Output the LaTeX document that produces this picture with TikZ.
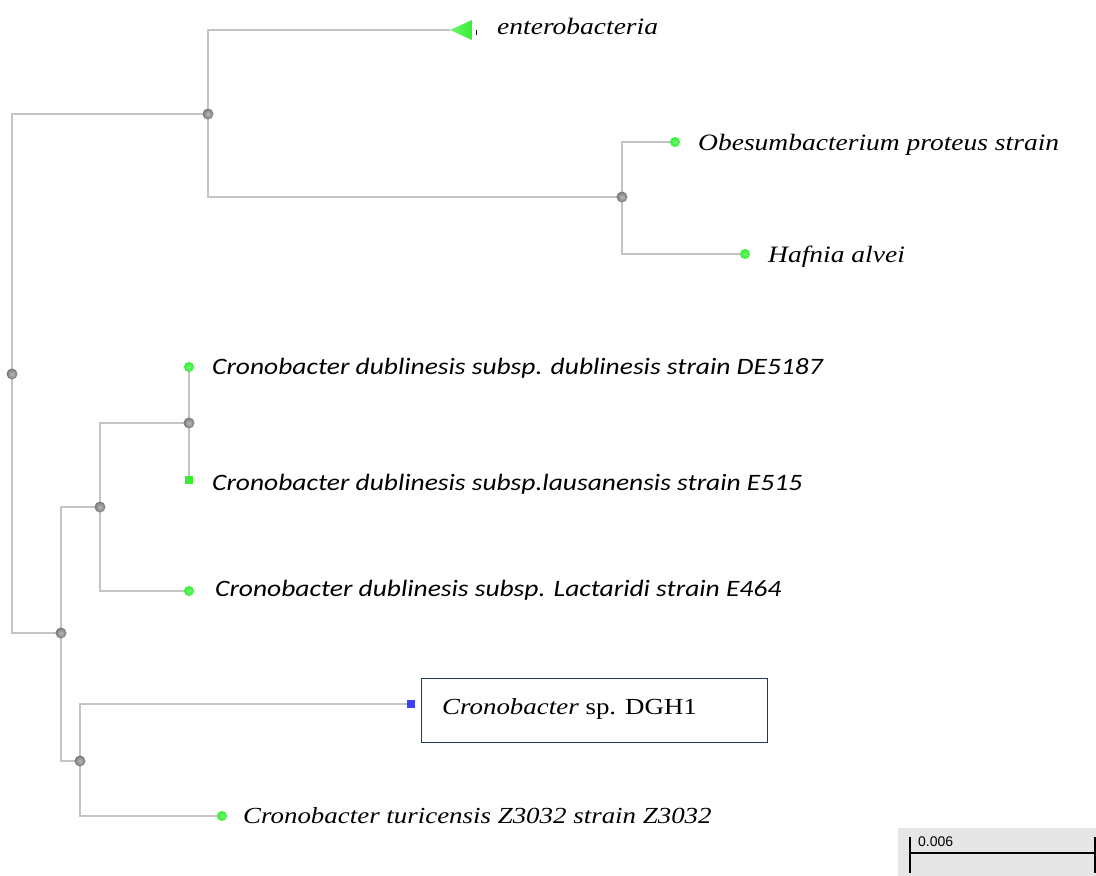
\documentclass[tikz,border=0pt]{standalone}
\usepackage{fontspec}
\setmainfont{Liberation Serif}
\newfontfamily\calfont{Carlito}
\newfontfamily\arialfont{Liberation Sans}
\usetikzlibrary{backgrounds}
\definecolor{brgray}{HTML}{C4C4C4}
\definecolor{leafgreen}{HTML}{33F033}
\definecolor{nodegray}{HTML}{8A8A8A}
\definecolor{navy}{HTML}{1F3864}
\definecolor{dotblue}{HTML}{4040FF}
\definecolor{barbg}{HTML}{E6E6E6}
\tikzset{
  br/.style={draw=brgray, line width=1.8pt},
  leaf/.style={circle, shading=radial, inner color=leafgreen!70!white, outer color=leafgreen, inner sep=0pt, minimum size=10pt},
  leafsq/.style={rectangle, fill=leafgreen, inner sep=0pt, minimum size=8pt},
  inode/.style={circle, shading=radial, inner color=gray!55, outer color=gray!95!black, inner sep=0pt, minimum size=11pt},
  lab/.style={anchor=base west, inner sep=0pt, font=\fontsize{23.5}{23.5}\selectfont\itshape},
  slab/.style={anchor=base west, inner sep=0pt, font=\fontsize{23.5}{23.5}\selectfont\calfont\itshape},
}
\newcommand{\sx}[1]{\scalebox{1.17}[1]{#1}}
\begin{document}
\begin{tikzpicture}[x=1pt,y=-1pt]
\useasboundingbox (0,0) rectangle (1096,876);
% internal nodes
\node[inode] (root) at (12,374) {};
\node[inode] (A) at (208,114) {};
\node[inode] (B) at (622,197) {};
\node[inode] (C) at (61,633) {};
\node[inode] (D) at (100,507) {};
\node[inode] (F) at (189,423) {};
\node[inode] (G) at (80,761) {};
% collapsed clade
\coordinate (tri) at (450,30);
\shade[left color=leafgreen!70!white, right color=leafgreen] (tri) -- (472,20) -- (472,40) -- cycle;
\draw[line width=1pt] (476,30) -- (476,35);
% leaves
\node[leaf] (Ob) at (675,142) {};
\node[leaf] (Ha) at (745,254) {};
\node[leaf] (L1) at (189,367) {};
\node[leafsq] (L2) at (189,480) {};
\node[leaf] (L3) at (189,591) {};
\node[rectangle, fill=dotblue, inner sep=0pt, minimum size=8pt] (DG) at (411,704) {};
\node[leaf] (T) at (222,816) {};
% branches
\begin{pgfonlayer}{background}
\draw[br] (root.center) |- (A.center);
\draw[br] (A.center) |- (tri);
\draw[br] (A.center) |- (B.center);
\draw[br] (B.center) |- (Ob.center);
\draw[br] (B.center) |- (Ha.center);
\draw[br] (root.center) |- (C.center);
\draw[br] (C.center) |- (D.center);
\draw[br] (D.center) |- (F.center);
\draw[br] (F.center) -- (L1.center);
\draw[br] (F.center) -- (L2.center);
\draw[br] (D.center) |- (L3.center);
\draw[br] (C.center) |- (G.center);
\draw[br] (G.center) |- (DG.center);
\draw[br] (G.center) |- (T.center);
\end{pgfonlayer}
% labels
\node[lab] (tEn) at (497,34) {\sx{enterobacteria}};
\node[lab] (tOb) at (698,150) {\sx{Obesumbacterium proteus strain}};
\node[lab] (tHa) at (768,262) {\sx{Hafnia alvei}};
\node[slab] (tL1) at (212,374) {\sx{Cronobacter dublinesis subsp. dublinesis strain DE5187}};
\node[slab] (tL2) at (212,490) {\sx{Cronobacter dublinesis subsp.lausanensis strain E515}};
\node[slab] (tL3) at (215,596) {\sx{Cronobacter dublinesis subsp. Lactaridi strain E464}};
\node[lab, font=\fontsize{23}{23}\selectfont\itshape] (tT) at (243,823) {\sx{Cronobacter turicensis Z3032 strain Z3032}};
\node[draw=navy, line width=1.3pt, minimum width=346pt, minimum height=64pt, anchor=north west, inner sep=0pt] (box) at (421,678) {};
\node[anchor=base west, inner sep=0pt, font=\fontsize{23}{23}\selectfont] (tDG) at (442,714) {\sx{\textit{Cronobacter} sp. DGH1}};
% scale bar
\fill[barbg] (898,828) rectangle (1096,876);
\draw[line width=2.5pt] (910,853) -- (1095,853);
\draw[line width=2.5pt] (910,837) -- (910,873);
\draw[line width=2.5pt] (1095,837) -- (1095,873);
\node[anchor=base west, inner sep=0pt, font=\fontsize{14}{14}\arialfont] (sc) at (918,846) {0.006};
\end{tikzpicture}
\end{document}
